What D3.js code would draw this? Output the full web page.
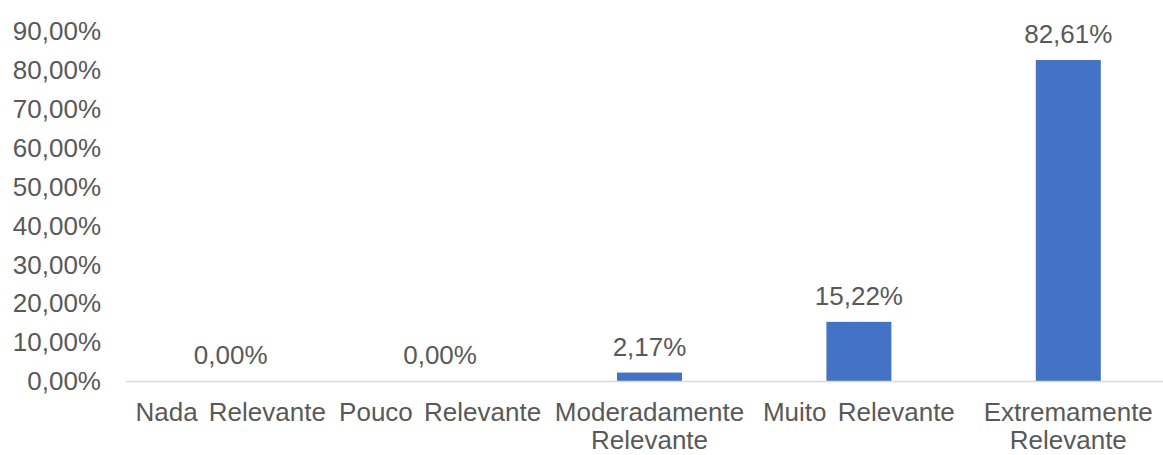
<!DOCTYPE html>
<html>
<head>
<meta charset="utf-8">
<script src="https://cdn.jsdelivr.net/npm/d3@7"></script>
<style>
  body { margin: 0; background: #fff; }
  text { font-family: Arial, "Liberation Sans", sans-serif; fill: #595959; }
</style>
</head>
<body>
<div id="chart"></div>
<script>
// chart data
var categories = ['Nada Relevante', 'Pouco Relevante', 'Moderadamente Relevante', 'Muito Relevante', 'Extremamente Relevante'];
var values = [0, 0, 2.17, 15.22, 82.61];
var yTicks = [0, 10, 20, 30, 40, 50, 60, 70, 80, 90];

var width = 1163, height = 455;
var fontSize = 26;

var svg = d3.select('#chart').append('svg')
    .attr('width', width)
    .attr('height', height);

var x = d3.scaleBand()
    .domain(categories)
    .range([126, 1173])
    .padding(0);

var y = d3.scaleLinear()
    .domain([0, 90])
    .range([381, 31.3]);

var fmt = function (v) { return v.toFixed(2).replace('.', ',') + '%'; };

// y tick labels
svg.append('g').selectAll('text')
    .data(yTicks)
    .enter().append('text')
    .attr('x', 101)
    .attr('y', function (d) { return y(d); })
    .attr('dy', '0.35em')
    .attr('text-anchor', 'end')
    .style('font-size', fontSize + 'px')
    .text(function (d) { return fmt(d); });

// bars
var barW = 65;
svg.append('g').selectAll('rect')
    .data(values)
    .enter().append('rect')
    .attr('x', function (d, i) { return x(categories[i]) + x.bandwidth() / 2 - barW / 2; })
    .attr('y', function (d) { return y(d); })
    .attr('width', barW)
    .attr('height', function (d) { return y(0) - y(d); })
    .attr('fill', '#4472C4');

// baseline
svg.append('line')
    .attr('x1', x.range()[0])
    .attr('x2', x.range()[1])
    .attr('y1', y(0) + 0.5)
    .attr('y2', y(0) + 0.5)
    .attr('stroke', '#D9D9D9')
    .attr('stroke-width', 1.5);

// value labels
svg.append('g').selectAll('text')
    .data(values)
    .enter().append('text')
    .attr('x', function (d, i) { return x(categories[i]) + x.bandwidth() / 2; })
    .attr('y', function (d) { return y(d) - 17; })
    .attr('text-anchor', 'middle')
    .style('font-size', fontSize + 'px')
    .text(function (d) { return fmt(d); });

// category labels, wrapped to band width
var cat = svg.append('g').selectAll('text')
    .data(categories)
    .enter().append('text')
    .attr('x', function (d) { return x(d) + x.bandwidth() / 2; })
    .attr('y', 421)
    .attr('text-anchor', 'middle')
    .style('font-size', fontSize + 'px')
    .style('word-spacing', '4px');

cat.each(function (d) {
    var t = d3.select(this);
    var cx = +t.attr('x');
    t.text(d);
    if (this.getComputedTextLength() <= x.bandwidth()) return;
    t.text(null);
    var words = d.split(' '), line = [];
    var tspan = t.append('tspan').attr('x', cx).attr('dy', 0);
    words.forEach(function (w) {
        line.push(w);
        tspan.text(line.join(' '));
        if (tspan.node().getComputedTextLength() > x.bandwidth() && line.length > 1) {
            line.pop();
            tspan.text(line.join(' '));
            line = [w];
            tspan = t.append('tspan').attr('x', cx).attr('dy', 28).text(w);
        }
    });
});
</script>
</body>
</html>
